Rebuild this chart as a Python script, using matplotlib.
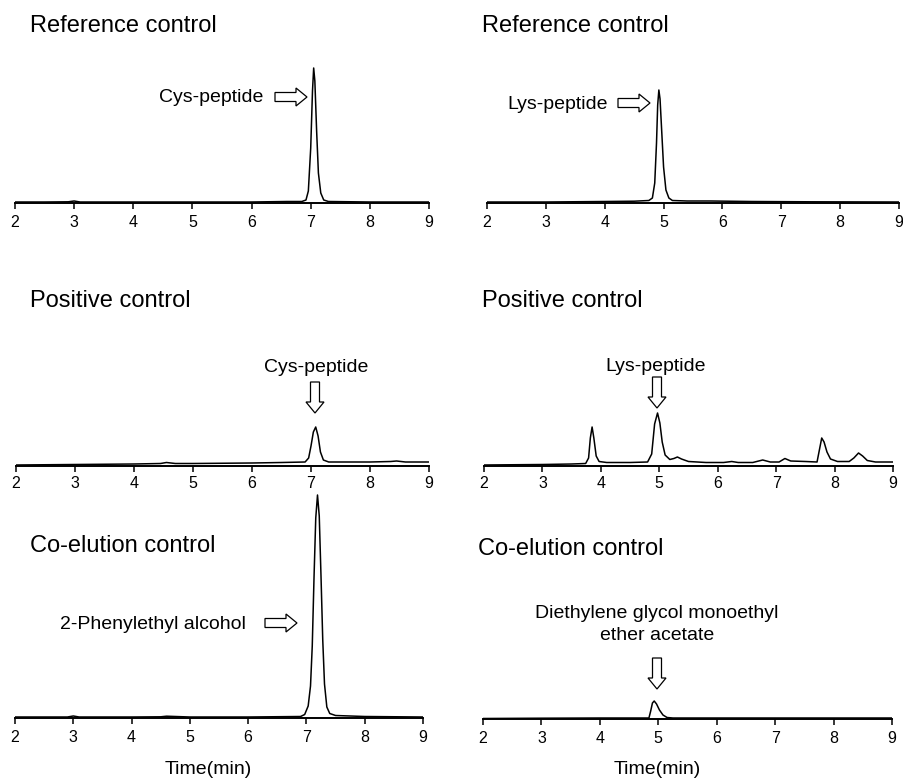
import matplotlib
matplotlib.use('Agg')
import matplotlib.pyplot as plt
from matplotlib.patches import FancyArrow
from matplotlib.transforms import Affine2D

plt.rcParams['font.family'] = ['Liberation Sans', 'DejaVu Sans']

W, H = 904, 778

# retention time (min) and detector response (arbitrary units)
ref_cys_t = [2.0, 2.5, 2.9, 3.0, 3.1, 4.0, 5.0, 6.0, 6.6, 6.85, 6.92, 6.96, 7.00, 7.03, 7.05,
             7.07, 7.10, 7.13, 7.17, 7.22, 7.30, 8.0, 9.0]
ref_cys_y = [1.0, 1.0, 1.2, 2.0, 1.0, 1.0, 1.0, 1.0, 1.5, 1.5, 3, 12, 55, 112, 135,
             122, 72, 30, 10, 3, 1.5, 1.0, 1.0]

ref_lys_t = [2.0, 3.0, 4.0, 4.5, 4.75, 4.81, 4.85, 4.88, 4.90, 4.92, 4.94, 4.97, 5.00, 5.04,
             5.09, 5.15, 5.4, 5.8, 6.5, 7.5, 9.0]
ref_lys_y = [1.0, 1.0, 1.5, 1.8, 2.5, 5, 20, 60, 98, 113, 104, 70, 36, 13,
             5, 2.5, 2.0, 2.0, 1.5, 1.2, 1.0]

pos_cys_t = [2.0, 3.0, 4.0, 4.45, 4.55, 4.7, 5.0, 6.0, 6.5, 6.9, 6.96, 7.00, 7.04, 7.08, 7.12,
             7.16, 7.21, 7.3, 7.6, 8.0, 8.35, 8.45, 8.6, 9.0]
pos_cys_y = [1.0, 1.5, 2.0, 2.5, 3.5, 2.5, 2.5, 3.0, 3.5, 4.0, 8, 20, 34, 39, 30,
             14, 6, 4.0, 4.0, 4.0, 4.5, 5.0, 4.0, 4.0]

pos_lys_t = [2.0, 3.0, 3.5, 3.74, 3.79, 3.82, 3.85, 3.88, 3.92, 3.97, 4.1, 4.5, 4.8, 4.87,
             4.92, 4.97, 5.01, 5.05, 5.1, 5.18, 5.25, 5.31, 5.38, 5.5, 5.8, 6.1, 6.24, 6.35,
             6.6, 6.77, 6.9, 7.05, 7.15, 7.25, 7.5, 7.7, 7.74, 7.78, 7.82, 7.87, 7.93, 8.05,
             8.25, 8.33, 8.41, 8.48, 8.56, 8.7, 9.0]
pos_lys_y = [1.0, 1.5, 2.0, 2.5, 8, 28, 39, 28, 10, 4.5, 3.5, 3.5, 4.0, 12,
             42, 53, 43, 24, 11, 6.5, 7.5, 9, 7, 4.5, 3.5, 3.5, 4.5, 3.5,
             3.5, 6, 4.0, 4.0, 7.5, 5.0, 4.5, 4.0, 16, 28, 24, 14, 7, 4.5,
             4.5, 8, 13, 10, 5.5, 4.0, 4.0]

coel_pea_t = [2.0, 2.9, 3.0, 3.1, 4.0, 4.5, 4.6, 5.0, 6.0, 6.9, 6.97, 7.03, 7.07, 7.10, 7.13,
              7.16, 7.19, 7.22, 7.25, 7.28, 7.31, 7.35, 7.40, 7.5, 8.0, 9.0]
coel_pea_y = [1.0, 1.0, 2.0, 1.0, 1.0, 1.2, 1.8, 1.0, 1.0, 1.5, 3.5, 12, 32, 72, 140,
              200, 223, 202, 142, 78, 34, 11, 4.5, 2.5, 1.5, 1.0]

coel_dgm_t = [2.0, 3.0, 4.0, 4.84, 4.87, 4.90, 4.93, 4.97, 5.02, 5.08, 5.15, 5.25, 6.0, 7.0, 9.0]
coel_dgm_y = [0.5, 0.8, 1.0, 1.0, 8, 16, 18, 15, 9, 4, 1.5, 1.0, 1.0, 1.0, 1.0]

panel_titles = ['Reference control', 'Reference control',
                'Positive control', 'Positive control',
                'Co-elution control', 'Co-elution control']
peak_labels = ['Cys-peptide', 'Lys-peptide', 'Cys-peptide', 'Lys-peptide',
               '2-Phenylethyl alcohol', 'Diethylene glycol monoethyl\nether acetate']
time_ticks = [2, 3, 4, 5, 6, 7, 8, 9]
x_label = 'Time(min)'

traces = [(ref_cys_t, ref_cys_y), (ref_lys_t, ref_lys_y),
          (pos_cys_t, pos_cys_y), (pos_lys_t, pos_lys_y),
          (coel_pea_t, coel_pea_y), (coel_dgm_t, coel_dgm_y)]

# layout in pixels (top-down): x of tick 2, x of tick 9, axis y, axes top, tick pad
frames = [(15, 429, 203, 53, 4.3), (487, 899, 203, 53, 4.3),
          (16, 429, 466, 366, 3.0), (484, 893, 466, 366, 3.0),
          (15, 423, 718, 478, 4.8), (483, 892, 719, 479, 4.8)]
title_pos = [(30, 32), (482, 32), (30, 307), (482, 307), (30, 552), (478, 555)]
# label anchor, arrow start, arrow end
label_pos = [(211, 102, 'center'), (558, 109, 'center'), (316, 372, 'center'),
             (656, 371, 'center'), (153, 629, 'center'), (657, 618, 'center')]
arrows = [(275, 97, 307, 97), (618, 103, 650, 103), (315, 382, 315, 413),
          (657, 377, 657, 408), (265, 623, 297, 623), (657, 658, 657, 689)]

fig = plt.figure(figsize=(W / 100, H / 100), dpi=100)
px = Affine2D().scale(1, -1).translate(0, H)


def ftext(x, y, s, **kw):
    fig.text(x / W, 1 - y / H, s, **kw)


for (t, y), (x2, x9, ay, top, pad) in zip(traces, frames):
    ax = fig.add_axes([x2 / W, 1 - ay / H, (x9 - x2) / W, (ay - top) / H])
    ax.plot(t, y, color='black', lw=1.1)
    ax.set_xlim(2, 9)
    ax.set_ylim(0, ay - top)
    for s in ['left', 'top', 'right']:
        ax.spines[s].set_visible(False)
    ax.spines['bottom'].set_linewidth(1.4)
    ax.set_yticks([])
    ax.set_xticks(time_ticks)
    ax.tick_params(axis='x', length=4, width=1.1, pad=pad, labelsize=11.5,
                   labelfontfamily=['Liberation Sans Narrow', 'Liberation Sans'])
    ax.patch.set_visible(False)

for title, (x, y) in zip(panel_titles, title_pos):
    ftext(x, y, title, fontsize=17, va='baseline', ha='left')

for lab, (x, y, ha) in zip(peak_labels, label_pos):
    for i, line in enumerate(lab.split('\n')):
        ftext(x, y + 22 * i, line, fontsize=14, va='baseline', ha=ha)

for x0, y0, x1, y1 in arrows:
    fig.add_artist(FancyArrow(x0, y0, x1 - x0, y1 - y0, width=9, head_width=18,
                              head_length=11, length_includes_head=True,
                              fc='white', ec='black', lw=0.9, transform=px))

ftext(208, 774, x_label, fontsize=14, ha='center', va='baseline')
ftext(657, 774, x_label, fontsize=14, ha='center', va='baseline')

fig.savefig('out.png', dpi=100)
